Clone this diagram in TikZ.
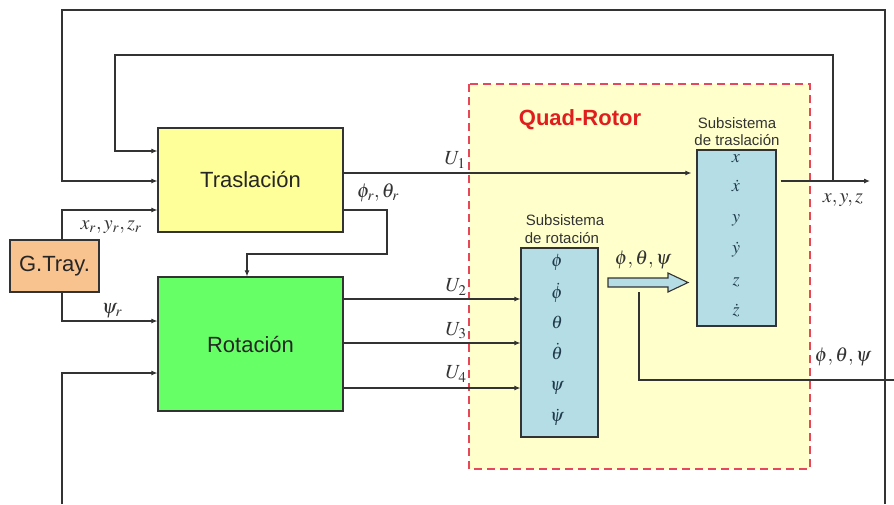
\documentclass[tikz,border=0pt]{standalone}
\usepackage{mathptmx}
\usepackage{fontspec}
\setmainfont{Liberation Sans}
\usetikzlibrary{arrows.meta}
\definecolor{ln}{HTML}{333333}
\definecolor{tyellow}{HTML}{FFFF99}
\definecolor{rgreen}{HTML}{66FF66}
\definecolor{gorange}{HTML}{F9C38F}
\definecolor{subblue}{HTML}{B4DDE6}
\definecolor{qfill}{HTML}{FFFFCC}
\definecolor{qdash}{HTML}{E8475B}
\definecolor{qred}{HTML}{E01E1E}
\definecolor{vardark}{HTML}{1F3A4A}
\tikzset{
 wire/.style={draw=ln, line width=1.1pt},
 arr/.style={wire, -{Latex[length=6pt,width=5pt]}},
 block/.style={draw=ln, line width=1.2pt, inner sep=0pt, text=black!85, font=\fontsize{22}{26}\selectfont},
 subbox/.style={draw=ln, line width=1.2pt, fill=subblue, inner sep=0pt},
 lbl/.style={inner sep=0pt, font=\fontsize{20}{24}\selectfont, text=ln},
 capt/.style={inner sep=0pt, font=\fontsize{15}{18}\selectfont, text=ln},
 var/.style={inner sep=0pt, text height=9pt, text depth=3pt, font=\fontsize{18}{21}\selectfont, text=vardark},
}
\begin{document}
\begin{tikzpicture}[x=1pt,y=-1pt]
\useasboundingbox (0,0) rectangle (894,504);
\fill[white] (0,0) rectangle (894,504);
% Quad-Rotor region
\draw[qdash, line width=1.8pt, dash pattern=on 8pt off 5pt, fill=qfill] (469,84) rectangle (810,469);
\node[inner sep=0pt, font=\fontsize{22}{26}\selectfont\bfseries, text=qred] (qr) at (580,120) {Quad-Rotor};

% blocks
\node[block, fill=tyellow, minimum width=185pt, minimum height=104pt] (tras) at (250.5,180) {Traslación};
\node[block, fill=rgreen, minimum width=185pt, minimum height=134pt] (rot) at (250.5,344) {Rotación};
\node[block, fill=gorange, minimum width=89pt, minimum height=52pt] (gtray) at (54.5,266) {G.Tray.};
\node[subbox, minimum width=79pt, minimum height=176pt] (trsub) at (736.5,238) {};
\node[subbox, minimum width=77pt, minimum height=189pt] (rotsub) at (559.5,342.5) {};

% captions
\node[capt] (c1a) at (737,123) {Subsistema};
\node[capt] (c1b) at (737,140) {de traslación};
\node[capt] (c2a) at (565,220) {Subsistema};
\node[capt] (c2b) at (562,238) {de rotación};

% state variables
\node[var] (vx) at (736,159) {$x$};
\node[var] (vxd) at (736,188) {$\dot x$};
\node[var] (vy) at (736,219) {$y$};
\node[var] (vyd) at (736,250) {$\dot y$};
\node[var] (vz) at (736,282) {$z$};
\node[var] (vzd) at (736,312) {$\dot z$};
\node[var] (vph) at (557,263) {$\phi$};
\node[var] (vphd) at (557,295) {$\dot\phi$};
\node[var] (vth) at (557,325) {$\theta$};
\node[var] (vthd) at (557,356) {$\dot\theta$};
\node[var] (vps) at (557,387) {$\psi$};
\node[var] (vpsd) at (557,418) {$\dot\psi$};

% block arrow
\draw[ln, line width=1.1pt, fill=subblue] (608,278) -- (668,278) -- (668,273) -- (688,282.5) -- (668,292) -- (668,287) -- (608,287) -- cycle;

% coordinates
\coordinate (outerin) at (885,504);
\coordinate (fbin) at (62,504);
\coordinate (tap1) at (833,181);
\coordinate (xyzout) at (870,181);
\coordinate (fbstart) at (639,292);
\coordinate (fbout) at (894,380);
\coordinate (u1s) at ([yshift=7pt]tras.east);
\coordinate (u2s) at ([yshift=45pt]rot.east);
\coordinate (u3s) at ([yshift=1pt]rot.east);
\coordinate (u4s) at ([yshift=-44pt]rot.east);

% connectors
\draw[arr] (outerin) -- (885,10) -- (62,10) |- ([yshift=-1pt]tras.west);
\draw[arr] (tap1) |- (115,55) |- ([yshift=29pt]tras.west);
\draw[arr] (gtray.north) ++(7.5,0) |- ([yshift=-30pt]tras.west);
\draw[arr] (gtray.south) ++(7.5,0) |- ([yshift=23pt]rot.west);
\draw[arr] (fbin) |- ([yshift=-29pt]rot.west);
\draw[arr] ([yshift=-30pt]tras.east) -- (387,210) |- (247,254) -- ([xshift=-3.5pt]rot.north);
\draw[arr, shorten >=5pt] (u1s) -- (u1s -| trsub.west);
\draw[arr] (u2s) -- (u2s -| rotsub.west);
\draw[arr] (u3s) -- (u3s -| rotsub.west);
\draw[arr] (u4s) -- (u4s -| rotsub.west);
\draw[arr] ([xshift=4pt,yshift=57pt]trsub.east) -- (xyzout);
\draw[wire] (fbstart) |- (fbout);

% labels
\node[lbl] (lxr) at (111,227) {$x_r, y_r, z_r$};
\node[lbl] (lpsr) at (112,311) {$\psi_r$};
\node[lbl] (lphr) at (378,193) {$\phi_r, \theta_r$};
\node[lbl] (lu1) at (455,160) {$U_1$};
\node[lbl] (lu2) at (456,287) {$U_2$};
\node[lbl] (lu3) at (456,331) {$U_3$};
\node[lbl] (lu4) at (456,374) {$U_4$};
\node[lbl] (lpta) at (643,260) {$\phi,\theta,\psi$};
\node[lbl] (lptb) at (843,357) {$\phi,\theta,\psi$};
\node[lbl] (lxyz) at (843,200) {$x,y,z$};
\end{tikzpicture}
\end{document}
